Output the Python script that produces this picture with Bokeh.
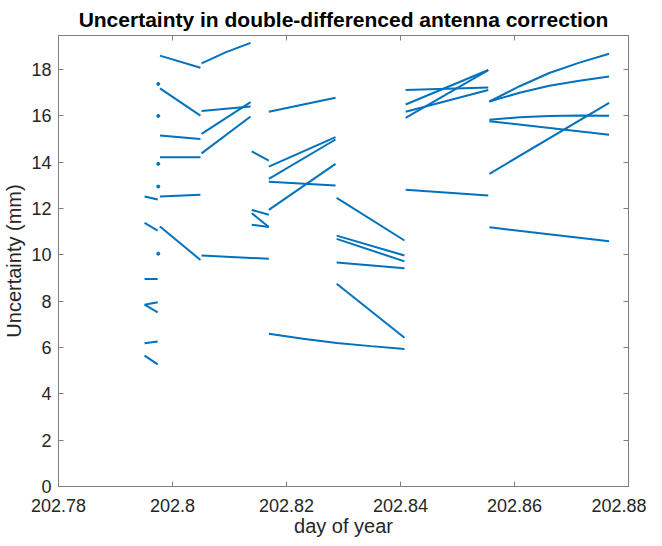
from bokeh.plotting import figure
from bokeh.models import LinearAxis, FixedTicker, NumeralTickFormatter, Range1d
from bokeh.embed import file_html
from bokeh.resources import INLINE

# ---- data (day of year, uncertainty in mm) ----
x_ticks = [202.78, 202.80, 202.82, 202.84, 202.86, 202.88]
y_ticks = [0, 2, 4, 6, 8, 10, 12, 14, 16, 18]

grp1_t = [202.7951, 202.7974]
grp1_y = [[12.52, 12.39], [11.38, 11.05], [8.96, 8.96], [7.85, 7.95],
          [7.85, 7.52], [6.18, 6.26], [5.65, 5.27]]

dots_t = [202.7975, 202.7975, 202.7975, 202.7975, 202.7975]
dots_y = [17.38, 16.0, 13.93, 12.95, 10.05]

grp2_t = [202.7978, 202.8049]
grp2_y = [[18.6, 18.08], [17.19, 16.01], [15.15, 15.0], [14.21, 14.21],
          [12.52, 12.6], [11.22, 9.78]]

grp3_t = [202.8051, 202.8094, 202.8137]
grp3_y = [[18.27, 18.75, 19.15]]
grp3s_t = [202.8051, 202.8137]
grp3s_y = [[16.21, 16.4], [15.22, 16.59], [14.38, 15.97]]

grp34_t = [202.8051, 202.8169]
grp34_y = [[9.97, 9.83]]

grp4_t = [202.8139, 202.8169]
grp4_y = [[14.47, 14.07], [11.94, 11.73], [11.8, 11.2], [11.3, 11.2]]

grp5_t = [202.8169, 202.8286]
grp5_y = [[16.18, 16.78], [13.81, 15.08], [13.28, 14.98], [13.16, 12.99],
          [11.94, 13.93]]

grp56_t = [202.8169, 202.8229, 202.8288, 202.8348, 202.8407]
grp56_y = [[6.59, 6.38, 6.2, 6.06, 5.94]]

grp6_t = [202.8288, 202.8407]
grp6_y = [[12.46, 10.62], [10.83, 9.97], [10.69, 9.72], [9.67, 9.42],
          [8.75, 6.42]]

grp7_t = [202.8409, 202.8554]
grp7_y = [[17.12, 17.23], [16.49, 17.98], [16.18, 17.12], [15.91, 17.98],
          [12.81, 12.56]]

grp8c_t = [202.8556, 202.8609, 202.8661, 202.8714, 202.8766]
grp8c_y = [[16.62, 17.28, 17.85, 18.3, 18.68],
           [16.62, 17.0, 17.3, 17.52, 17.7],
           [15.83, 15.94, 16.0, 16.02, 16.01]]
grp8_t = [202.8556, 202.8766]
grp8_y = [[15.77, 15.19], [13.5, 16.56], [11.19, 10.59]]

groups = [(grp1_t, grp1_y), (grp2_t, grp2_y), (grp3_t, grp3_y),
          (grp3s_t, grp3s_y), (grp34_t, grp34_y), (grp4_t, grp4_y),
          (grp5_t, grp5_y), (grp56_t, grp56_y), (grp6_t, grp6_y),
          (grp7_t, grp7_y), (grp8c_t, grp8c_y), (grp8_t, grp8_y)]

xs, ys = [], []
for t, series in groups:
    for s in series:
        xs.append(list(t))
        ys.append(list(s))

BLUE = "#0072BD"
FONT = "Liberation Sans"
AX = "#262626"

p = figure(frame_width=570, frame_height=451,
           x_range=Range1d(202.78, 202.88), y_range=Range1d(0, 19.47),
           output_backend="svg", toolbar_location=None,
           min_border_left=57, min_border_right=18, min_border_top=35,
           min_border_bottom=44,
           title="Uncertainty in double-differenced antenna correction")

p.multi_line(xs, ys, line_color=BLUE, line_width=2)
p.scatter(dots_t, dots_y, size=3, color=BLUE)

p.title.text_font = FONT
p.title.text_font_size = "21px"
p.title.text_font_style = "bold"
p.title.text_color = "#000000"
p.title.align = "center"
p.title.standoff = 10

p.grid.visible = False
p.outline_line_color = "#808080"
p.outline_line_width = 1
p.background_fill_color = "white"
p.border_fill_color = "white"

def style_axis(ax, ticks, show_labels):
    ax.major_tick_in = 5
    ax.major_tick_out = 0
    ax.minor_tick_in = 0
    ax.minor_tick_out = 0
    ax.axis_line_color = "#808080"
    ax.major_tick_line_color = "#808080"
    ax.minor_tick_line_color = "#808080"
    if show_labels:
        ax.ticker = FixedTicker(ticks=ticks)
        ax.major_label_text_font = FONT
        ax.major_label_text_font_size = "18px"
        ax.major_label_text_color = AX
        ax.axis_label_text_font = FONT
        ax.axis_label_text_font_size = "20px"
        ax.axis_label_text_font_style = "normal"
        ax.axis_label_text_color = AX
    else:
        # ticks only (drawn as minor ticks so no labels are produced)
        ax.ticker = FixedTicker(ticks=[], minor_ticks=ticks)
        ax.minor_tick_in = 5
        ax.major_label_standoff = 0

xa = p.xaxis[0]
style_axis(xa, x_ticks, True)
xa.formatter = NumeralTickFormatter(format="0.[00]")
xa.axis_label = "day of year"
xa.major_label_standoff = 12
xa.axis_label_standoff = 0

ya = p.yaxis[0]
style_axis(ya, y_ticks, True)
ya.axis_label = "Uncertainty (mm)"
ya.major_label_standoff = 7
ya.axis_label_standoff = 3

top = LinearAxis()
style_axis(top, x_ticks, False)
p.add_layout(top, "above")
right = LinearAxis()
style_axis(right, y_ticks, False)
p.add_layout(right, "right")

open("out.html", "w").write(file_html(p, INLINE))
